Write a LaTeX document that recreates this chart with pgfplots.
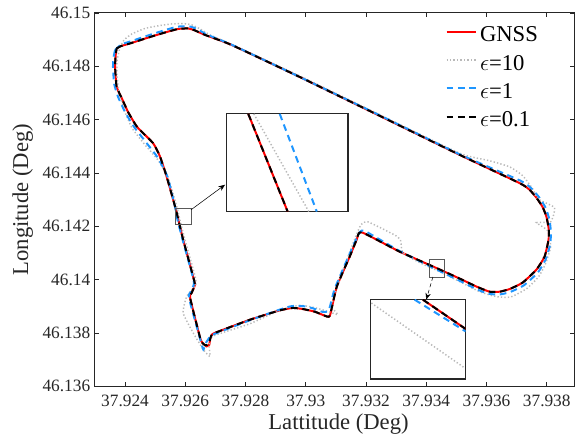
\documentclass[border=0pt]{standalone}
\usepackage{fontspec}
\setmainfont{Liberation Serif}
\usepackage{pgfplots}
\usepackage{pgfplotstable}
\pgfplotsset{compat=1.18}
\usetikzlibrary{arrows.meta}

\definecolor{axgray}{RGB}{38,38,38}
\definecolor{gnssred}{RGB}{255,0,0}
\definecolor{epsblue}{RGB}{30,150,255}
\definecolor{epsgray}{RGB}{185,185,185}

% Coordinates are stored as offsets in units of 1e-3 deg:
% x = (Lattitude - 37.92)*1000, y = (Longitude - 46.13)*1000
% (avoids the limited precision of TeX arithmetic on e.g. 37.92372)
\pgfplotstableread{
x y
3.72 18.67
3.87 18.76
4.17 18.86
4.83 19.10
5.33 19.27
5.76 19.40
6.09 19.42
6.29 19.36
6.65 19.18
7.54 18.80
9.80 17.60
12.46 16.14
15.11 14.68
17.10 13.62
17.43 13.37
17.66 13.07
17.86 12.73
17.99 12.36
18.07 11.87
18.06 11.50
17.93 10.87
17.66 10.38
17.20 9.89
16.77 9.65
16.44 9.55
16.10 9.55
15.67 9.74
15.11 10.04
14.45 10.38
13.12 11.05
11.85 11.78
11.69 11.50
11.46 10.87
11.03 9.74
10.80 8.65
10.63 8.65
10.30 8.80
9.90 8.90
9.57 8.94
9.14 8.85
8.15 8.50
7.04 8.03
6.88 7.94
6.82 7.75
6.80 7.57
6.71 7.50
6.58 7.62
6.49 7.83
6.16 9.32
6.21 9.50
6.32 9.81
6.26 10.12
5.93 11.50
5.77 12.25
5.66 12.75
5.38 13.87
5.16 14.62
4.93 15.12
4.40 15.73
4.10 16.29
3.89 16.81
3.72 17.24
3.67 17.99
3.69 18.43
3.72 18.67
}\gnss

\pgfplotstableread{
x y
3.73 17.68
3.73 18.17
3.83 18.69
3.97 18.99
4.22 19.21
4.66 19.42
5.16 19.53
5.56 19.59
5.96 19.60
6.22 19.55
6.49 19.40
6.82 19.18
7.54 18.82
9.80 17.64
12.46 16.18
15.11 14.74
16.10 14.46
16.77 14.23
17.20 13.90
17.53 13.41
17.70 13.03
18.26 12.70
18.13 12.17
17.66 12.14
18.03 11.84
18.13 11.24
17.96 10.60
17.73 10.11
17.33 9.66
16.80 9.35
16.34 9.36
15.77 9.55
15.11 9.93
14.45 10.30
13.78 10.64
13.22 11.01
13.15 11.46
12.99 11.65
12.06 12.17
11.83 12.06
11.59 11.42
11.24 10.38
11.02 9.63
10.85 9.00
11.07 8.69
10.70 8.82
10.30 8.95
9.90 9.03
9.47 8.98
8.81 8.69
8.15 8.35
7.15 7.98
6.88 7.85
6.79 7.53
6.82 7.12
6.60 7.38
6.26 8.01
5.93 8.75
6.05 9.38
6.35 9.81
6.32 10.15
5.99 11.50
5.82 12.25
5.72 12.73
5.43 13.82
5.09 14.49
4.66 15.06
4.23 15.69
3.97 16.37
3.80 17.04
3.73 17.68
}\epsten

\pgfplotstableread{
x y
3.67 18.61
3.87 18.82
4.17 18.93
4.83 19.18
5.33 19.36
5.76 19.49
6.16 19.49
6.39 19.40
6.72 19.19
7.54 18.81
9.80 17.60
12.46 16.16
15.11 14.70
17.13 13.71
17.50 13.41
17.76 13.07
17.96 12.70
18.09 12.25
18.14 11.76
18.11 11.31
17.96 10.75
17.70 10.26
17.23 9.78
16.77 9.53
16.40 9.44
16.04 9.48
15.64 9.66
15.11 9.96
14.45 10.32
13.12 11.07
11.93 11.84
11.73 11.65
11.43 10.90
10.96 9.66
10.76 8.84
10.53 8.80
10.23 8.93
9.90 9.01
9.54 9.01
9.14 8.88
8.15 8.48
7.05 8.00
6.85 7.90
6.69 7.64
6.60 7.38
6.49 7.79
6.12 9.33
6.19 9.55
6.29 9.85
6.24 10.15
5.91 11.50
5.74 12.25
5.66 12.73
5.41 13.86
5.09 14.57
4.76 15.06
4.30 15.73
4.00 16.29
3.77 16.85
3.64 17.34
3.60 17.98
3.62 18.35
3.67 18.61
}\epsone

\pgfplotstableread{
x y
3.72 18.67
3.87 18.76
4.17 18.86
4.83 19.10
5.33 19.27
5.76 19.40
6.09 19.42
6.29 19.36
6.65 19.18
7.54 18.80
9.80 17.60
12.46 16.14
15.11 14.68
17.10 13.62
17.43 13.37
17.66 13.07
17.86 12.73
17.99 12.36
18.07 11.87
18.06 11.50
17.93 10.87
17.66 10.38
17.20 9.89
16.77 9.65
16.44 9.55
16.10 9.55
15.67 9.74
15.11 10.04
14.45 10.38
13.12 11.05
11.85 11.78
11.69 11.50
11.46 10.87
11.03 9.74
10.80 8.65
10.63 8.65
10.30 8.80
9.90 8.90
9.57 8.94
9.14 8.85
8.15 8.50
7.04 8.03
6.88 7.94
6.82 7.75
6.78 7.58
6.66 7.54
6.56 7.64
6.49 7.83
6.16 9.32
6.21 9.50
6.32 9.81
6.26 10.12
5.93 11.50
5.77 12.25
5.66 12.75
5.38 13.87
5.16 14.62
4.93 15.12
4.40 15.73
4.10 16.29
3.89 16.81
3.72 17.24
3.67 17.99
3.69 18.43
3.72 18.67
}\epspone

\begin{document}
\begin{tikzpicture}
\begin{axis}[
  name=main,
  scale only axis,
  width=360pt, height=280.3pt,
  xmin=3.0, xmax=18.92, ymin=6, ymax=20,
  xtick={4,6,8,10,12,14,16,18},
  xticklabels={37.924,37.926,37.928,37.93,37.932,37.934,37.936,37.938},
  ytick={6,8,10,12,14,16,18,20},
  yticklabels={46.136,46.138,46.14,46.142,46.144,46.146,46.148,46.15},
  tick align=inside, tick pos=both,
  major tick length=3pt,
  axis line style={axgray, line width=0.75pt},
  tick style={axgray, line width=0.6pt},
  ticklabel style={font=\fontsize{13}{15}\selectfont, text=axgray},
  xticklabel style={yshift=-3pt},
  xlabel={Lattitude (Deg)},
  ylabel={Longitude (Deg)},
  label style={font=\fontsize{17}{20}\selectfont, text=axgray},
  xlabel style={at={(axis description cs:0.508,-0.1159)}, anchor=base},
  ylabel style={at={(axis description cs:-0.1395,0.5)}, anchor=base},
  legend cell align=left,
  legend image code/.code={\draw[#1] (0pt,1.5pt) -- (22pt,1.5pt);},
  legend style={at={(rel axis cs:0.7306,0.966)}, anchor=north west,
    draw=none, fill=none, inner sep=0pt, row sep=9.2pt,
    font=\fontsize{17}{20}\selectfont,
    nodes={inner sep=0pt, text height=12pt, text depth=0pt},
    /tikz/every odd column/.append style={column sep=2.4pt}},
]
\addplot[gnssred, line width=1.5pt, smooth, tension=0.3] table[x=x,y=y] {\gnss};
\addlegendentry{GNSS}
\addplot[epsgray, line width=1.1pt, smooth, tension=0.3, dash pattern=on 1pt off 1.6pt] table[x=x,y=y] {\epsten};
\addlegendentry{$\epsilon$=10}
\addplot[epsblue, line width=1.5pt, smooth, tension=0.3, dash pattern=on 5pt off 3.5pt] table[x=x,y=y] {\epsone};
\addlegendentry{$\epsilon$=1}
\addplot[black, line width=1.5pt, smooth, tension=0.3, dash pattern=on 5pt off 3.5pt] table[x=x,y=y] {\epspone};
\addlegendentry{$\epsilon$=0.1}
% zoom source rectangles and arrows
\draw[gray!70!black, line width=0.5pt] (axis cs:5.66,12.06) rectangle (axis cs:6.19,12.69);
\draw[gray!70!black, line width=0.5pt] (axis cs:14.09,10.10) rectangle (axis cs:14.59,10.75);
\draw[black, line width=0.4pt, -{Stealth[length=5pt,width=4pt]}] (axis cs:6.19,12.62) -- (axis cs:7.32,13.56);
\draw[black, line width=0.4pt, densely dashed, -{Stealth[length=5pt,width=4pt]}] (axis cs:14.22,10.10) -- (axis cs:14.00,9.25);
\end{axis}

\coordinate (inA) at ([shift={(98.8pt,131.25pt)}]main.south west);
\coordinate (inB) at ([shift={(206.8pt,5.55pt)}]main.south west);

\begin{axis}[
  at={(inA)}, anchor=south west, scale only axis,
  width=91.2pt, height=73.3pt,
  xmin=0, xmax=1, ymin=0, ymax=1,
  xtick=\empty, ytick=\empty,
  axis line style={axgray, line width=0.9pt},
  axis background/.style={fill=white},
]
\addplot[gnssred, line width=1.5pt] coordinates {(0.179,1) (0.503,0)};
\addplot[epsgray, line width=1.1pt, dash pattern=on 1pt off 1.6pt] coordinates {(0.225,1) (0.677,0)};
\addplot[epsblue, line width=1.5pt, dash pattern=on 5pt off 3.5pt] coordinates {(0.438,1) (0.743,0)};
\addplot[black, line width=1.5pt, dash pattern=on 5pt off 3.5pt] coordinates {(0.179,1) (0.503,0)};
\end{axis}

\begin{axis}[
  at={(inB)}, anchor=south west, scale only axis,
  width=71.5pt, height=59.5pt,
  xmin=0, xmax=1, ymin=0, ymax=1,
  xtick=\empty, ytick=\empty,
  axis line style={axgray, line width=0.9pt},
  axis background/.style={fill=white},
]
\addplot[gnssred, line width=1.5pt] coordinates {(0.552,1) (1,0.631)};
\addplot[epsgray, line width=1.1pt, dash pattern=on 1pt off 1.6pt] coordinates {(0.0105,0.958) (0.99,0.139)};
\addplot[epsblue, line width=1.5pt, dash pattern=on 5pt off 3.5pt] coordinates {(0.465,1) (1,0.600)};
\addplot[black, line width=1.5pt, dash pattern=on 5pt off 3.5pt] coordinates {(0.552,1) (1,0.631)};
\end{axis}

\pgfresetboundingbox
\path ([shift={(-71.25pt,-37.7pt)}]main.south west) rectangle ([shift={(0.4pt,9.75pt)}]main.north east);
\end{tikzpicture}
\end{document}
